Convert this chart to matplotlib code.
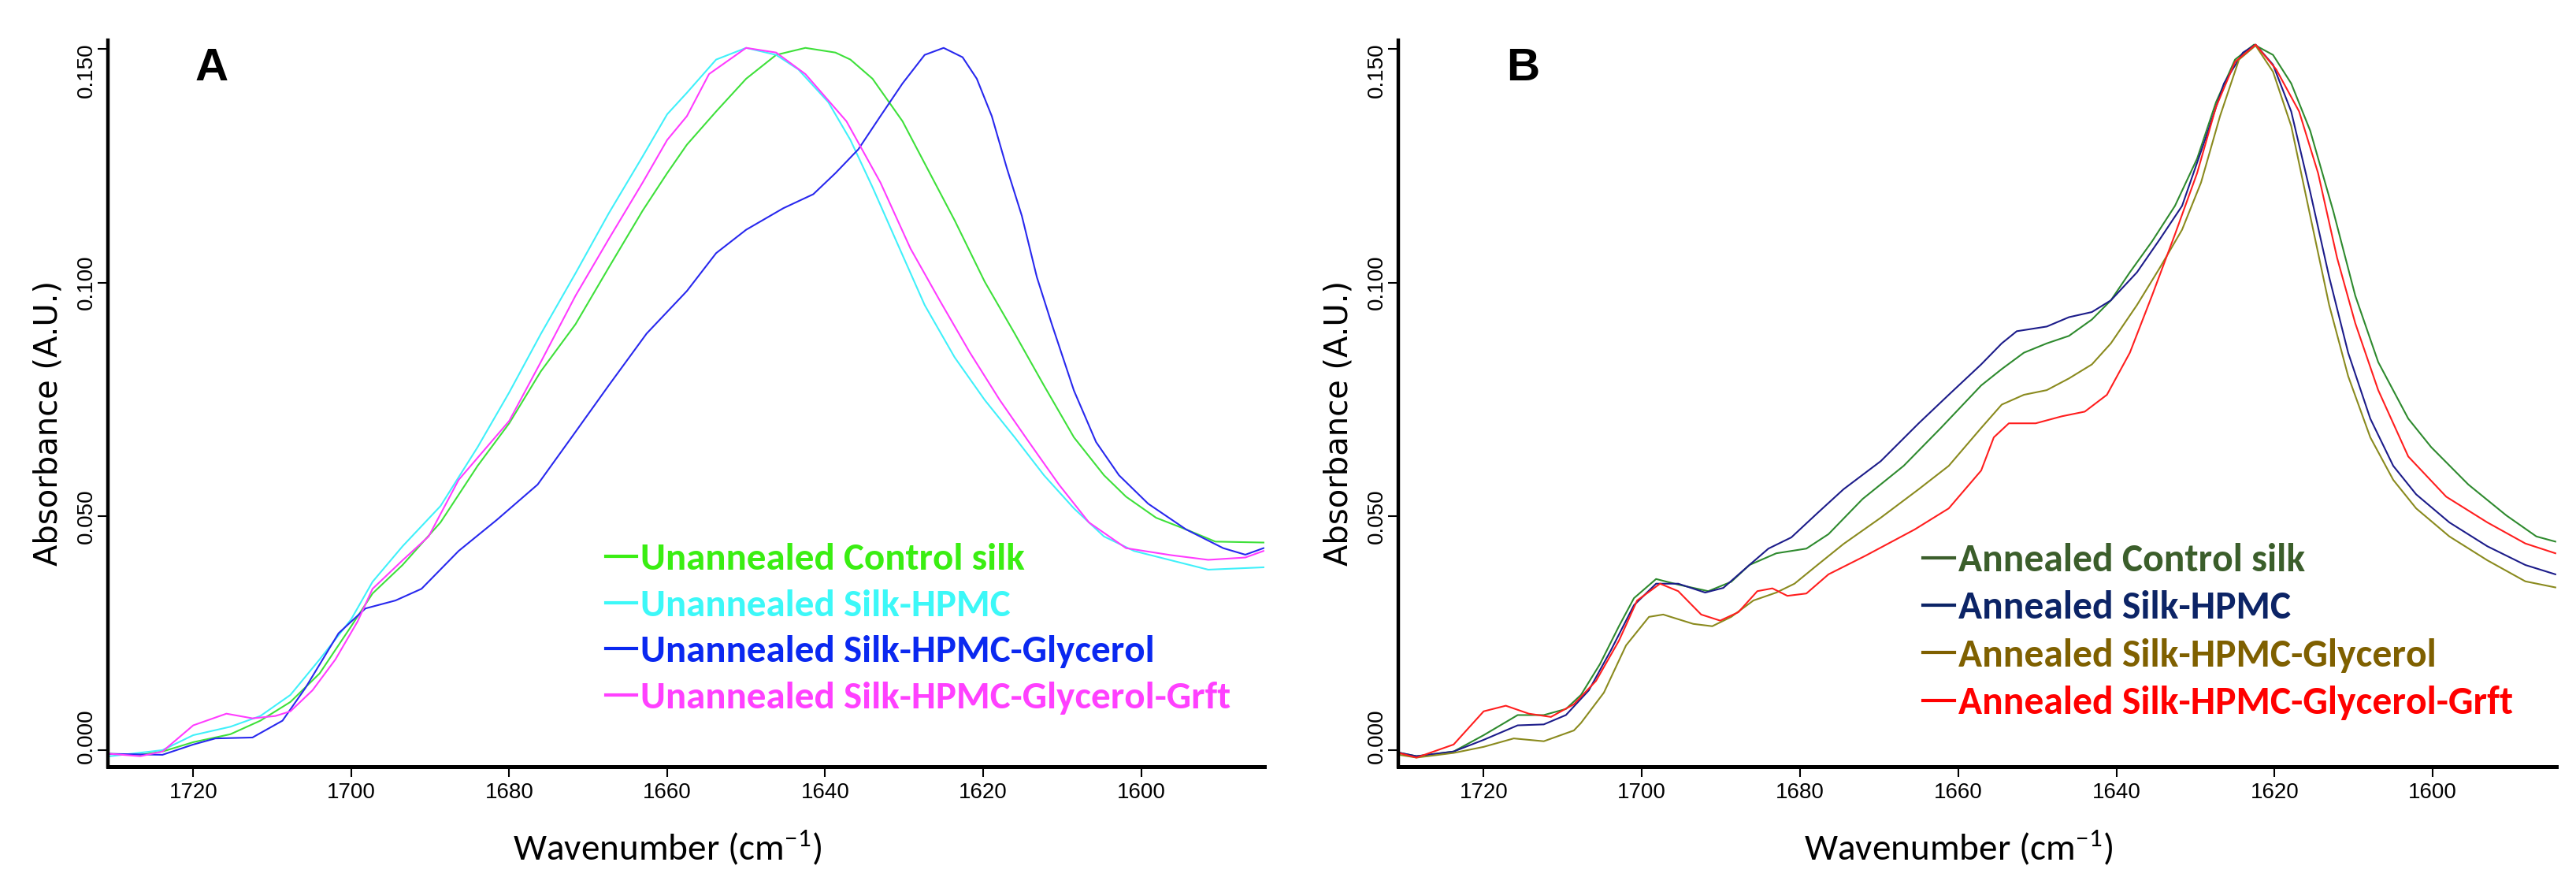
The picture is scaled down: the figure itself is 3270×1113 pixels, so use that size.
import matplotlib
matplotlib.use('Agg')
import matplotlib.pyplot as plt
import matplotlib.transforms as mtransforms
from matplotlib import font_manager

# Fonts: Calibri-like face for axis title / legend if we have one
names = {f.name for f in font_manager.fontManager.ttflist}
label_font = 'Carlito' if 'Carlito' in names else 'Lato'
plt.rcParams['font.family'] = ['Liberation Sans', 'DejaVu Sans']

## Panel A: unannealed films ##

a_control_x = [1730.5, 1726.7, 1723.9, 1720, 1715.3, 1711.5, 1707.7, 1704, 1700, 1697.3,
               1693.5, 1688.7, 1684, 1680, 1676, 1671.6, 1667.4, 1663.1, 1660, 1657.5,
               1653.8, 1650, 1646.2, 1642.5, 1638.7, 1636.8, 1634, 1630.2, 1627.4, 1623.6,
               1619.8, 1616, 1612.3, 1608.5, 1604.7, 1601.9, 1598.1, 1594.3, 1590.6, 1584.5]
a_control_y = [-0.0008, -0.001, -0.0003, 0.0017, 0.0034, 0.0063, 0.0103, 0.0164, 0.0265, 0.0335,
               0.0396, 0.0487, 0.0608, 0.0699, 0.081, 0.0911, 0.1032, 0.1154, 0.1234, 0.1295,
               0.1366, 0.1436, 0.1487, 0.1502, 0.1492, 0.1477, 0.1436, 0.1345, 0.1255, 0.1133,
               0.1002, 0.0891, 0.078, 0.0669, 0.0588, 0.0542, 0.0497, 0.0472, 0.0446, 0.0444]

a_hpmc_x = [1730.5, 1723.9, 1720, 1715.3, 1711.5, 1707.7, 1704, 1700, 1697.3, 1693.5,
            1688.7, 1684, 1680, 1676, 1671.6, 1667.4, 1663.1, 1660, 1657.5, 1653.8,
            1650, 1646.2, 1643.4, 1639.6, 1636.8, 1634, 1631.1, 1627.4, 1623.6, 1619.8,
            1616, 1612.3, 1608.5, 1604.7, 1600.9, 1596.2, 1591.5, 1584.5]
a_hpmc_y = [-0.0013, 0.0, 0.0032, 0.005, 0.0073, 0.0118, 0.0194, 0.028, 0.036, 0.0436,
            0.0522, 0.0648, 0.0765, 0.089, 0.102, 0.1148, 0.127, 0.136, 0.1406, 0.1477,
            0.1502, 0.1487, 0.1456, 0.1386, 0.1305, 0.1204, 0.1093, 0.0952, 0.084, 0.0749,
            0.0669, 0.0588, 0.0517, 0.0457, 0.0426, 0.0406, 0.0386, 0.0391]

a_glyc_x = [1730.5, 1723.9, 1720, 1717.2, 1712.5, 1708.7, 1705.8, 1701.6, 1698.2, 1694.4,
            1691.1, 1686.4, 1681.6, 1676.4, 1672.1, 1667.4, 1662.6, 1657.5, 1653.8, 1650,
            1645.3, 1641.5, 1638.7, 1635.8, 1633, 1630.2, 1627.4, 1625, 1622.6, 1620.8,
            1618.9, 1617, 1615.1, 1613.2, 1611.3, 1608.5, 1605.7, 1602.8, 1599.1, 1594.3,
            1589.6, 1586.8, 1584.5]
a_glyc_y = [-0.0008, -0.001, 0.0012, 0.0025, 0.0027, 0.0063, 0.0133, 0.025, 0.0303, 0.032,
            0.0345, 0.0426, 0.0492, 0.0568, 0.0669, 0.078, 0.0891, 0.0982, 0.1063, 0.1113,
            0.1159, 0.1189, 0.1234, 0.1285, 0.1356, 0.1426, 0.1487, 0.1502, 0.1482, 0.1436,
            0.1356, 0.1245, 0.1143, 0.1012, 0.0911, 0.0769, 0.0659, 0.0588, 0.0527, 0.0472,
            0.0432, 0.0418, 0.0432]

a_grft_x = [1730.5, 1726.7, 1723.9, 1720, 1715.8, 1712.5, 1709.6, 1707.7, 1704.9, 1702,
            1699.2, 1697.3, 1693.5, 1690.2, 1686.4, 1680, 1676, 1671.6, 1667.4, 1663.1,
            1660, 1657.5, 1654.7, 1650, 1646.2, 1642.5, 1637.3, 1633, 1629.2, 1625.5,
            1621.7, 1617.9, 1614.2, 1610.4, 1606.6, 1601.9, 1596.2, 1591.5, 1586.8, 1584.5]
a_grft_y = [-0.0008, -0.0013, -0.0003, 0.0053, 0.0078, 0.0068, 0.0073, 0.0083, 0.0128, 0.0194,
            0.0275, 0.0345, 0.0406, 0.0457, 0.0578, 0.0704, 0.083, 0.0972, 0.1093, 0.1214,
            0.1305, 0.1356, 0.1446, 0.1502, 0.1492, 0.1446, 0.1345, 0.1214, 0.1073, 0.0962,
            0.0851, 0.0749, 0.0659, 0.0568, 0.0487, 0.0432, 0.0417, 0.0407, 0.0412, 0.0426]

a_labels = ['Unannealed Control silk', 'Unannealed Silk-HPMC',
            'Unannealed Silk-HPMC-Glycerol', 'Unannealed Silk-HPMC-Glycerol-Grft']
a_line_colors = ['#3ee03a', '#40f0fa', '#2828ee', '#ff3cff']
a_text_colors = ['#3aee12', '#3cf8f8', '#0a28f0', '#ff40ff']

## Panel B: annealed films ##

b_control_x = [1731.4, 1728.5, 1723.8, 1720, 1715.7, 1712.4, 1709.6, 1707.7, 1705.3, 1702.9,
               1701, 1698.2, 1695.4, 1691.6, 1688.7, 1686.4, 1683, 1679.2, 1676.4, 1672.1,
               1666.9, 1662.2, 1657.1, 1654.5, 1651.7, 1648.8, 1646, 1643.1, 1640.7, 1638.3,
               1635.5, 1632.6, 1629.8, 1627.4, 1625, 1622.6, 1620.2, 1617.9, 1615.5, 1612.6,
               1609.8, 1606.9, 1603.1, 1600.2, 1595.5, 1590.7, 1586.9, 1584.5]
b_control_y = [-0.0003, -0.0013, -0.0003, 0.0032, 0.0075, 0.0075, 0.0088, 0.0118, 0.0184, 0.0265,
               0.0325, 0.0366, 0.0354, 0.034, 0.036, 0.0396, 0.0421, 0.0431, 0.0462, 0.0537,
               0.0608, 0.0689, 0.078, 0.0815, 0.085, 0.087, 0.0886, 0.0921, 0.0962, 0.1022,
               0.1088, 0.1164, 0.1265, 0.1386, 0.1477, 0.1509, 0.1487, 0.1426, 0.1325, 0.1154,
               0.0972, 0.083, 0.0709, 0.0648, 0.0568, 0.0502, 0.0457, 0.0446]

b_hpmc_x = [1731.4, 1728.5, 1723.8, 1720, 1715.7, 1712.4, 1709.6, 1706.7, 1703.9, 1701,
            1698.2, 1695.4, 1692, 1689.7, 1686.4, 1684, 1681.1, 1677.8, 1674.5, 1669.8,
            1665, 1661.2, 1657.1, 1654.5, 1652.6, 1648.8, 1646, 1643.1, 1640.7, 1637.4,
            1634.5, 1631.7, 1628.8, 1626.4, 1624, 1622.4, 1620.2, 1617.9, 1615.5, 1613.1,
            1610.7, 1607.9, 1605, 1602.1, 1597.9, 1593.1, 1588.3, 1584.5]
b_hpmc_y = [-0.0003, -0.0013, -0.0003, 0.0022, 0.0053, 0.0055, 0.0075, 0.0128, 0.0214, 0.031,
            0.0356, 0.0356, 0.0337, 0.0347, 0.0396, 0.0431, 0.0455, 0.0507, 0.0558, 0.0618,
            0.0699, 0.076, 0.0825, 0.087, 0.0896, 0.0906, 0.0926, 0.0937, 0.0962, 0.1022,
            0.1093, 0.1164, 0.1305, 0.1426, 0.1492, 0.1509, 0.1466, 0.1366, 0.1194, 0.1012,
            0.085, 0.0709, 0.0608, 0.0547, 0.0487, 0.0436, 0.0396, 0.0376]

b_glyc_x = [1731.4, 1728.5, 1723.8, 1720, 1716.2, 1712.4, 1708.6, 1707.7, 1704.8, 1702,
            1699.1, 1697.3, 1693.5, 1691.1, 1688.7, 1685.9, 1683, 1680.7, 1677.8, 1674.5,
            1669.8, 1665, 1661.2, 1657.1, 1654.5, 1651.7, 1648.8, 1646, 1643.1, 1640.7,
            1637.4, 1634.5, 1631.7, 1629.3, 1626.9, 1624.5, 1622.4, 1620.2, 1617.9, 1615.5,
            1613.1, 1610.7, 1607.9, 1605, 1602.1, 1597.9, 1593.1, 1588.3, 1584.5]
b_glyc_y = [-0.0008, -0.0016, -0.0006, 0.0007, 0.0025, 0.0019, 0.0042, 0.0058, 0.0123, 0.0224,
            0.0285, 0.029, 0.027, 0.0265, 0.0285, 0.032, 0.0337, 0.0356, 0.0396, 0.0441,
            0.0497, 0.0558, 0.0608, 0.0689, 0.0739, 0.076, 0.077, 0.0795, 0.0825, 0.087,
            0.0952, 0.1032, 0.1113, 0.1214, 0.1356, 0.1477, 0.1507, 0.1451, 0.1335, 0.1143,
            0.0952, 0.08, 0.0669, 0.0578, 0.0517, 0.0457, 0.0406, 0.0361, 0.0348]

b_grft_x = [1731.4, 1728.5, 1723.8, 1720, 1717.2, 1714.3, 1711.5, 1708.6, 1705.8, 1702.9,
            1700.6, 1697.7, 1695.4, 1692.5, 1690.1, 1687.8, 1685.4, 1683.5, 1681.6, 1679.2,
            1676.4, 1671.7, 1665.5, 1661.2, 1657.1, 1655.5, 1653.6, 1650.2, 1646.9, 1644,
            1641.2, 1638.3, 1635.5, 1632.6, 1629.8, 1627.4, 1625, 1622.4, 1619.8, 1616.9,
            1614.5, 1612.1, 1609.8, 1606.9, 1603.1, 1598.3, 1593.1, 1588.3, 1584.5]
b_grft_y = [-0.0003, -0.0016, 0.0012, 0.0083, 0.0095, 0.0078, 0.0071, 0.0098, 0.0148, 0.0234,
            0.032, 0.0356, 0.034, 0.029, 0.0277, 0.0295, 0.034, 0.0346, 0.033, 0.0335,
            0.0376, 0.0416, 0.0472, 0.0517, 0.0598, 0.0669, 0.0699, 0.0699, 0.0714, 0.0724,
            0.076, 0.085, 0.0972, 0.1103, 0.1234, 0.1376, 0.1472, 0.1509, 0.1456, 0.1366,
            0.1234, 0.1053, 0.0913, 0.077, 0.0628, 0.0542, 0.0487, 0.0442, 0.0421]

b_labels = ['Annealed Control silk', 'Annealed Silk-HPMC',
            'Annealed Silk-HPMC-Glycerol', 'Annealed Silk-HPMC-Glycerol-Grft']
b_line_colors = ['#2e8a2e', '#1c1c8a', '#8a8a1e', '#ff1e1e']
b_text_colors = ['#3b5e2b', '#0c2466', '#7f6000', '#ff0000']

x_ticks = [1720, 1700, 1680, 1660, 1640, 1620, 1600]
y_ticks = [0.000, 0.050, 0.100, 0.150]
y_tick_labels = ['0.000', '0.050', '0.100', '0.150']

y_title = 'Absorbance (A.U.)'
x_title = r'Wavenumber (cm$^{\mathregular{-1}}$)'

fig = plt.figure(figsize=(32.7, 11.13), dpi=100)
renderer = fig.canvas.get_renderer()


def fitted_size(text, target_px, size, **kw):
    # scale the font so the rendered text is about target_px long
    t = fig.text(0, 0, text, fontsize=size, **kw)
    w = t.get_window_extent(renderer).width
    t.remove()
    return size * target_px / w


ylab_size = fitted_size(y_title, 361, 30, family='DejaVu Sans')
xlab_size = fitted_size(x_title, 393, 32, family=label_font)
leg_size_a = fitted_size(a_labels[-1], 751, 32, family=label_font, weight='bold')
leg_size_b = fitted_size(b_labels[-1], 707, 32, family=label_font, weight='bold')


def panel(ax, series, labels, line_colors, text_colors, letter, letter_x, leg_x, leg_size):
    for (xs, ys), lab, c in zip(series, labels, line_colors):
        ax.plot(xs, ys, color=c, lw=1.5, label=lab)
    ax.set_xlim(1730.8, 1584.4)
    ax.set_ylim(-0.00354, 0.15185)
    ax.set_xticks(x_ticks)
    ax.set_yticks(y_ticks)
    ax.set_yticklabels(y_tick_labels)
    for s in ['top', 'right']:
        ax.spines[s].set_visible(False)
    ax.spines['left'].set_linewidth(3.2)
    ax.spines['bottom'].set_linewidth(3.6)
    ax.tick_params(axis='both', direction='out', length=9.4, width=1.5, labelsize=20)
    ax.tick_params(axis='x', pad=5)
    ax.tick_params(axis='y', pad=1, labelrotation=90)
    ylabs = ax.get_yticklabels()
    for t in ylabs:
        t.set_verticalalignment('center')
    # first and last labels are pulled inside the axis span
    ylabs[0].set_transform(ylabs[0].get_transform() +
                           mtransforms.ScaledTranslation(0, 0.175, fig.dpi_scale_trans))
    ylabs[-1].set_transform(ylabs[-1].get_transform() +
                            mtransforms.ScaledTranslation(0, -0.27, fig.dpi_scale_trans))

    ax.set_ylabel(y_title, fontsize=ylab_size, family='DejaVu Sans')
    ax.yaxis.set_label_coords(-0.038, 0.473)
    ax.set_xlabel(x_title, fontsize=xlab_size, family=label_font)
    ax.xaxis.set_label_coords(0.484, -0.085)

    ax.text(letter_x, 0.990, letter, transform=ax.transAxes, fontsize=42,
            fontweight='bold', ha='left', va='top')

    leg = ax.legend(loc='upper left', bbox_to_anchor=(leg_x, 0.308), frameon=False,
                    prop={'family': label_font, 'weight': 'bold', 'size': leg_size},
                    handlelength=0.8, handletextpad=0.1, labelspacing=0.33,
                    borderpad=0, borderaxespad=0)
    for line, txt, c in zip(leg.get_lines(), leg.get_texts(), text_colors):
        line.set_color(c)
        line.set_linewidth(3)
        txt.set_color(c)


ax_a = fig.add_axes([0.0419, 0.1258, 0.4489, 0.8284])
ax_b = fig.add_axes([0.5428, 0.1258, 0.4495, 0.8284])

panel(ax_a,
      [(a_control_x, a_control_y), (a_hpmc_x, a_hpmc_y),
       (a_glyc_x, a_glyc_y), (a_grft_x, a_grft_y)],
      a_labels, a_line_colors, a_text_colors, 'A', 0.075, 0.4305, leg_size_a)
panel(ax_b,
      [(b_control_x, b_control_y), (b_hpmc_x, b_hpmc_y),
       (b_glyc_x, b_glyc_y), (b_grft_x, b_grft_y)],
      b_labels, b_line_colors, b_text_colors, 'B', 0.093, 0.453, leg_size_b)

fig.savefig('out.png', dpi=100)
